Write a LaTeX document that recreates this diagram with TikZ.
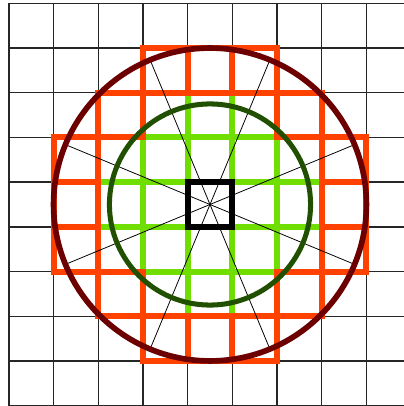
\documentclass[tikz,border=0pt]{standalone}
\usepackage{tikz}
\usetikzlibrary{positioning}

\definecolor{ringred}{RGB}{255,66,0}
\definecolor{innergreen}{RGB}{112,222,0}
\definecolor{outercirc}{RGB}{108,0,0}
\definecolor{innercirc}{RGB}{32,80,0}

\begin{document}
\begin{tikzpicture}[
  gridline/.style={draw=black!85, line width=0.9pt},
  ringcell/.style={draw=ringred, line width=3.8pt},
  innercell/.style={draw=innergreen, line width=3.8pt},
  ray/.style={draw=black, line width=0.5pt},
  bigcirc/.style={draw=outercirc, line width=3.6pt},
  smallcirc/.style={draw=innercirc, line width=3.2pt},
  centre/.style={draw=black, line width=3.8pt, minimum size=1cm, inner sep=0pt}
]
  \useasboundingbox (-4.698,-4.508) rectangle (4.340,4.575);
  \clip (-4.698,-4.508) rectangle (4.340,4.575);

  % background grid
  \foreach \k in {-4.5,-3.5,...,4.5} {
    \draw[gridline] (\k,-4.5) -- (\k,4.5);
    \draw[gridline] (-4.5,\k) -- (4.5,\k);
  }

  % cells inside the small circle
  \foreach \i in {-4,...,4}
    \foreach \j in {-4,...,4} {
      \pgfmathsetmacro\d{sqrt(\i*\i+\j*\j)}
      \ifdim\d pt<2.25pt
        \draw[innercell] ({\i-0.5},{\j-0.5}) rectangle ({\i+0.5},{\j+0.5});
      \fi
    }

  % cells between the two circles
  \foreach \i in {-4,...,4}
    \foreach \j in {-4,...,4} {
      \pgfmathsetmacro\d{sqrt(\i*\i+\j*\j)}
      \ifdim\d pt<3.5pt
        \ifdim\d pt>2.25pt
          \draw[ringcell] ({\i-0.5},{\j-0.5}) rectangle ({\i+0.5},{\j+0.5});
        \fi
      \fi
    }

  \coordinate (o) at (0,0);
  \foreach \a in {22.5,67.5,...,337.5}
    \draw[ray] (o) -- (\a:3.5);

  \draw[bigcirc] (o) circle (3.5);
  \draw[smallcirc] (o) circle (2.25);

  \node[centre] (cell) at (o) {};
\end{tikzpicture}
\end{document}
